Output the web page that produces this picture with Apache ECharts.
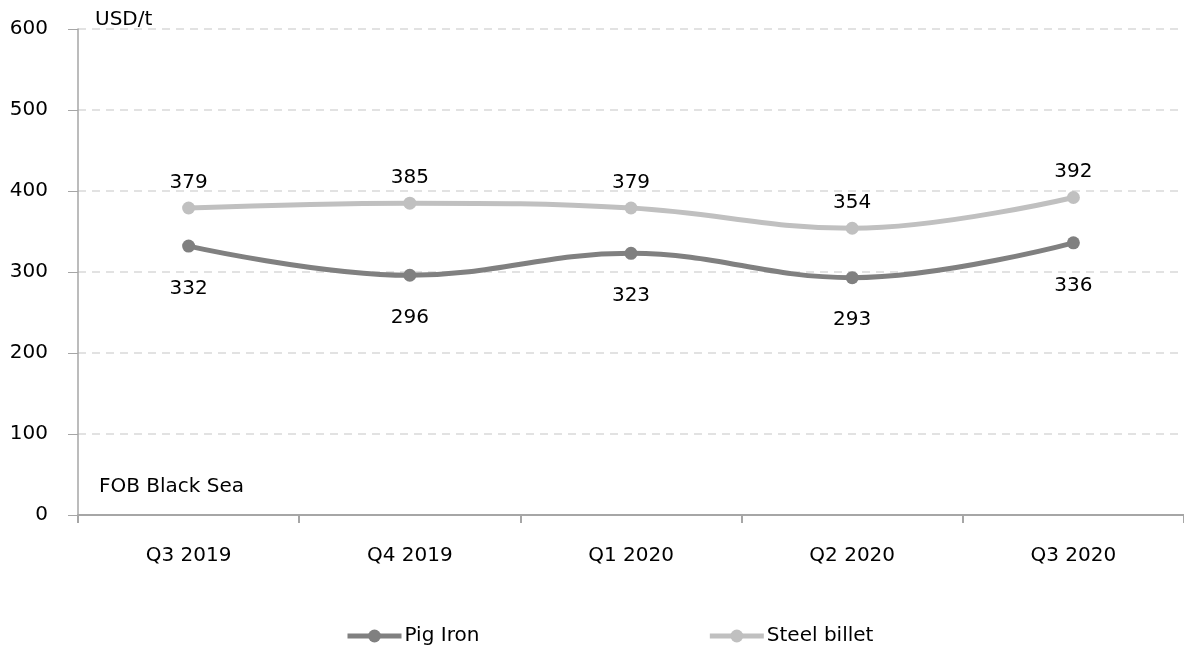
<!DOCTYPE html>
<html>
<head>
<meta charset="utf-8">
<script src="https://cdn.jsdelivr.net/npm/echarts@6/dist/echarts.min.js"></script>
<style>
  html, body { margin: 0; padding: 0; background: #fff; }
  #chart { width: 1184px; height: 652px; }
</style>
</head>
<body>
<div id="chart"></div>
<script>
// Datos del gráfico
const quarters = ['Q3 2019', 'Q4 2019', 'Q1 2020', 'Q2 2020', 'Q3 2020'];
const pigIron = [332, 296, 323, 293, 336];
const steelBillet = [379, 385, 379, 354, 392];
const yTicks = [0, 100, 200, 300, 400, 500, 600];

const fuente = '"DejaVu Sans", sans-serif';
const tam = 20;
const chart = echarts.init(document.getElementById('chart'));

function serie(nombre, datos, color, posicion, distancia) {
    return {
        name: nombre,
        type: 'line',
        data: datos,
        smooth: 0.4,
        symbol: 'circle',
        symbolSize: 13,
        lineStyle: { width: 5, color: color },
        itemStyle: { color: color },
        label: {
            show: true,
            position: posicion,
            distance: distancia,
            color: '#000',
            fontSize: tam,
            fontFamily: fuente
        }
    };
}

chart.setOption({
    animation: false,
    grid: { left: 78, right: 0, top: 29, bottom: 137 },
    legend: {
        bottom: 1,
        left: 340,
        itemGap: 228,
        itemWidth: 54,
        itemHeight: 16,
        lineStyle: { width: 5 },
        textStyle: { fontSize: tam, fontFamily: fuente, color: '#000', padding: [0, 0, 0, -2] },
        data: ['Pig Iron', 'Steel billet']
    },
    graphic: [
        { type: 'text', left: 95, top: 10, style: { text: 'USD/t', fontSize: tam, fontFamily: fuente, fill: '#000' } },
        { type: 'text', left: 99, top: 477, style: { text: 'FOB Black Sea', fontSize: tam, fontFamily: fuente, fill: '#000' } }
    ],
    xAxis: {
        type: 'category',
        data: quarters,
        boundaryGap: true,
        axisLine: { lineStyle: { color: '#a6a6a6', width: 2 } },
        axisTick: { show: true, length: 8, lineStyle: { color: '#a6a6a6', width: 2 } },
        axisLabel: { margin: 31, fontSize: tam, fontFamily: fuente, color: '#000' }
    },
    yAxis: {
        type: 'value',
        min: yTicks[0],
        max: yTicks[yTicks.length - 1],
        interval: 100,
        axisLine: { show: true, lineStyle: { color: '#a6a6a6', width: 1.5 } },
        axisTick: { show: true, length: 10, lineStyle: { color: '#a6a6a6' } },
        axisLabel: { margin: 30, fontSize: tam, fontFamily: fuente, color: '#000' },
        splitLine: { lineStyle: { color: '#d9d9d9', type: [8, 6], width: 1.5 } }
    },
    series: [
        serie('Pig Iron', pigIron, '#808080', 'bottom', 26),
        serie('Steel billet', steelBillet, '#c0c0c0', 'top', 9)
    ]
});
</script>
</body>
</html>
